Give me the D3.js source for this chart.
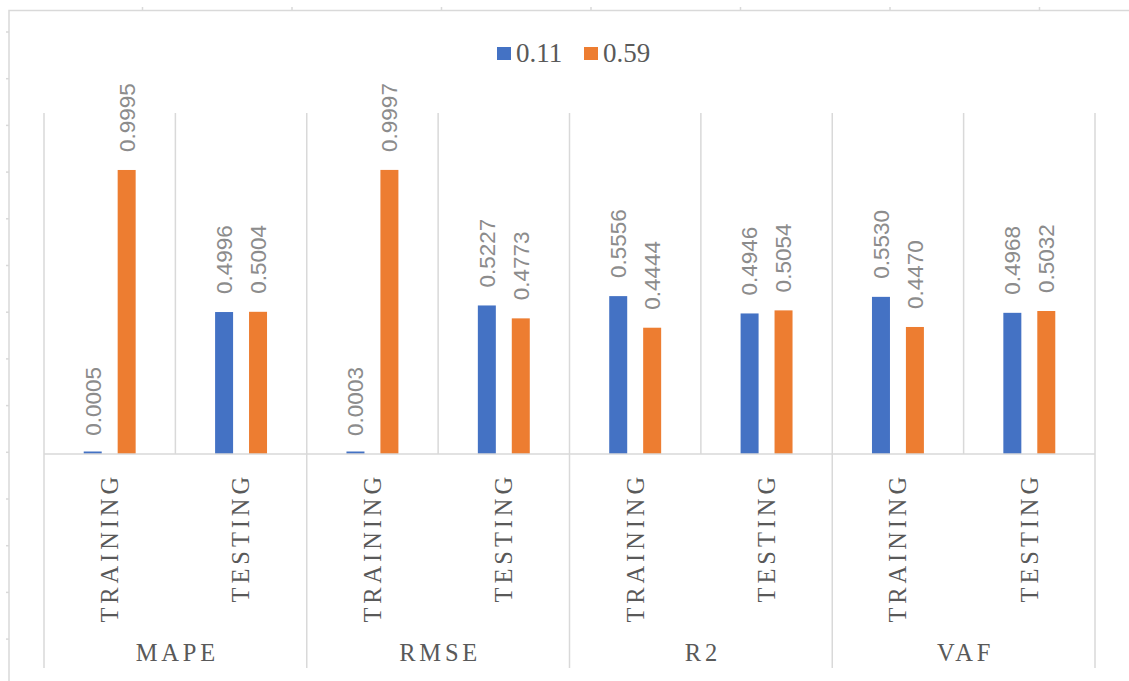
<!DOCTYPE html>
<html lang="en">
<head>
    <meta charset="UTF-8">
    <title>Chart</title>
    <script src="https://d3js.org/d3.v7.min.js"></script>
    <style>
        body { margin: 0; background: #fff; }
    </style>
</head>
<body>

<div id="my_dataviz"></div>

<script>
    // data
    var groups = ["MAPE", "RMSE", "R2", "VAF"];
    var phases = ["TRAINING", "TESTING"];
    var seriesNames = ["0.11", "0.59"];
    var values011 = [0.0005, 0.4996, 0.0003, 0.5227, 0.5556, 0.4946, 0.5530, 0.4968];
    var values059 = [0.9995, 0.5004, 0.9997, 0.4773, 0.4444, 0.5054, 0.4470, 0.5032];
    var colors = ["#4472C4", "#ED7D31"];

    var W = 1129, H = 681;
    var plot = {left: 44, right: 1095, top: 113, bottom: 454};
    var axisBottom = 668;
    var grid = "#d9d9d9";

    // build rows from the arrays
    var cats = [];
    groups.forEach(function(g) {
        phases.forEach(function(p) { cats.push({group: g, phase: p, key: g + "|" + p}); });
    });
    cats.forEach(function(c, i) { c.values = [values011[i], values059[i]]; });

    var svg = d3.select("#my_dataviz").append("svg")
        .attr("width", W)
        .attr("height", H);

    // frame around the picture (edge of the sheet)
    svg.append("path")
        .attr("d", "M9,681 V10.5 H1129")
        .attr("fill", "none")
        .attr("stroke", grid)
        .attr("stroke-width", 1.5);
    d3.range(32, 681, 46.7).forEach(function(ty) {
        svg.append("line").attr("x1", 6).attr("x2", 9).attr("y1", ty).attr("y2", ty)
            .attr("stroke", grid).attr("stroke-width", 1.5);
    });
    d3.range(142.5, 1129, 149.5).forEach(function(tx) {
        svg.append("line").attr("x1", tx).attr("x2", tx).attr("y1", 7).attr("y2", 10)
            .attr("stroke", grid).attr("stroke-width", 1.5);
    });

    // scales
    var x = d3.scaleBand()
        .domain(cats.map(function(c) { return c.key; }))
        .range([plot.left, plot.right])
        .padding(0);

    var xInner = d3.scaleBand()
        .domain([0, 1])
        .range([0, x.bandwidth()])
        .paddingInner(0.47)
        .paddingOuter(1.17);

    var y = d3.scaleLinear()
        .domain([0, 1.2])
        .range([plot.bottom, plot.top]);

    // vertical gridlines at category boundaries
    var step = x.step();
    d3.range(cats.length + 1).forEach(function(i) {
        var gx = plot.left + i * step;
        svg.append("line")
            .attr("x1", gx).attr("x2", gx)
            .attr("y1", plot.top)
            .attr("y2", i % 2 === 0 ? axisBottom : plot.bottom)
            .attr("stroke", grid)
            .attr("stroke-width", 1.5);
    });

    // bars (tiny values still drawn as a thin sliver, like the original)
    var catG = svg.selectAll(".cat")
        .data(cats)
        .enter().append("g")
        .attr("class", "cat")
        .attr("transform", function(d) { return "translate(" + x(d.key) + ",0)"; });

    catG.selectAll("rect")
        .data(function(d) { return d.values; })
        .enter().append("rect")
        .attr("x", function(d, i) { return xInner(i); })
        .attr("width", xInner.bandwidth())
        .attr("y", function(d) { return Math.min(y(d), y(0) - 2.5); })
        .attr("height", function(d) { return Math.max(y(0) - y(d), 2.5); })
        .attr("fill", function(d, i) { return colors[i]; });

    // baseline
    svg.append("line")
        .attr("x1", plot.left).attr("x2", plot.right)
        .attr("y1", y(0)).attr("y2", y(0))
        .attr("stroke", grid)
        .attr("stroke-width", 1.5);

    // data labels
    catG.selectAll(".lbl")
        .data(function(d) { return d.values; })
        .enter().append("text")
        .attr("class", "lbl")
        .attr("transform", function(d, i) {
            return "translate(" + (xInner(i) + xInner.bandwidth() / 2) + "," + (y(d) - 18) + ") rotate(-90)";
        })
        .attr("dy", "0.35em")
        .attr("text-anchor", "start")
        .attr("font-family", "'Liberation Sans', Arial, sans-serif")
        .attr("font-size", "22.5px")
        .attr("fill", "#8c8c8c")
        .text(function(d) { return d.toFixed(4); });

    // category labels (rotated)
    catG.append("text")
        .attr("transform", "translate(" + (x.bandwidth() / 2) + "," + 473 + ") rotate(-90)")
        .attr("dy", "0.34em")
        .attr("text-anchor", "end")
        .attr("font-family", "'Liberation Serif', 'Times New Roman', serif")
        .attr("font-size", "24.5px")
        .attr("letter-spacing", "3.9px")
        .attr("fill", "#595959")
        .text(function(d) { return d.phase; });

    // group labels
    groups.forEach(function(g) {
        var x0 = x(g + "|" + phases[0]);
        var x1 = x(g + "|" + phases[phases.length - 1]) + x.bandwidth();
        svg.append("text")
            .attr("x", (x0 + x1) / 2 + 2)
            .attr("y", 661)
            .attr("text-anchor", "middle")
            .attr("font-family", "'Liberation Serif', 'Times New Roman', serif")
            .attr("font-size", "24.5px")
            .attr("letter-spacing", "3.8px")
            .attr("fill", "#595959")
            .text(g);
    });

    // legend
    var legendX = [497, 584];
    seriesNames.forEach(function(s, i) {
        svg.append("rect")
            .attr("x", legendX[i]).attr("y", 47)
            .attr("width", 14).attr("height", 13)
            .attr("fill", colors[i]);
        svg.append("text")
            .attr("x", legendX[i] + 19)
            .attr("y", 62)
            .attr("font-family", "'Liberation Serif', 'Times New Roman', serif")
            .attr("font-size", "27px")
            .attr("fill", "#595959")
            .text(s);
    });
</script>

</body>
</html>
